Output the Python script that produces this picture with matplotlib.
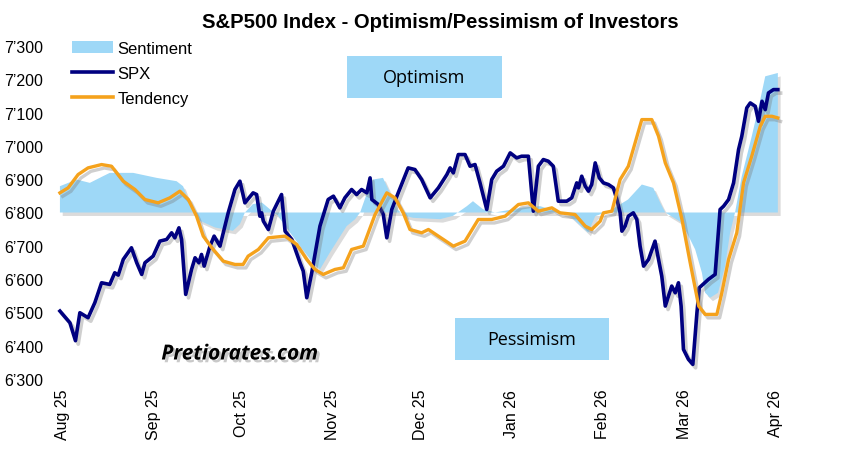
import matplotlib
matplotlib.use("Agg")
import matplotlib.pyplot as plt
import matplotlib.patheffects as pe
from matplotlib.patches import Rectangle, Patch
from matplotlib.lines import Line2D
import matplotlib.dates as mdates
import pandas as pd

start = pd.Timestamp("2025-08-01")
baseline = 6800

# days since 2025-08-01
spx_days = [-1.0, 2.4, 4.3, 5.8, 8.6, 10.9, 13.2, 16.0, 17.7, 18.9, 20.6, 23.4, 25.2, 26.9, 28.0,
            30.8, 33.1, 35.4, 37.1, 38.2, 39.6, 40.5, 41.9, 43.9, 45.1, 46.4, 47.3, 48.2, 50.2,
            51.6, 53.6, 56.4, 58.7, 60.4, 62.1, 64.9, 66.1, 67.2, 67.8, 68.4, 70.1, 71.8, 74.6,
            75.8, 78.1, 80.9, 82.0, 83.2, 84.9, 87.7, 90.5, 92.3, 94.5, 96.2, 98.5, 100.2, 101.9,
            103.7, 104.8, 105.4, 107.6, 109.3, 110.5, 112.2, 114.4, 117.8, 120.1, 122.4, 125.3,
            128.1, 131.0, 132.1, 133.2, 134.9, 137.2, 138.9, 140.6, 142.3, 144.6, 146.3, 148.0,
            150.3, 152.6, 154.8, 156.5, 158.8, 160.5, 162.2, 163.9, 165.6, 167.3, 169.0, 171.9,
            173.6, 175.3, 175.9, 177.0, 178.2, 179.3, 180.4, 181.6, 183.0, 184.4, 186.1, 187.8,
            189.0, 190.1, 190.7, 191.8, 192.9, 194.6, 195.8, 196.9, 198.1, 199.8, 202.0, 203.2,
            204.3, 205.5, 206.6, 207.7, 208.9, 210.0, 210.9, 211.7, 213.4, 214.9, 216.3, 217.1,
            220.2, 222.5, 224.2, 225.4, 227.1, 228.8, 230.5, 231.6, 233.3, 234.5, 236.2, 237.3,
            238.5, 239.6, 240.7, 242.4, 243.9]
spx_values = [6504, 6469, 6415, 6499, 6484, 6529, 6589, 6584, 6619, 6612, 6659, 6694, 6649, 6614, 6649,
              6669, 6714, 6719, 6739, 6724, 6754, 6719, 6554, 6629, 6664, 6649, 6674, 6639, 6699,
              6729, 6699, 6799, 6869, 6894, 6829, 6859, 6854, 6789, 6799, 6774, 6749, 6804, 6854,
              6744, 6719, 6649, 6624, 6544, 6619, 6759, 6839, 6849, 6814, 6844, 6869, 6854, 6869,
              6859, 6904, 6839, 6824, 6794, 6724, 6809, 6859, 6934, 6929, 6899, 6844,
              6874, 6914, 6934, 6919, 6974, 6974, 6939, 6944, 6889, 6809, 6899, 6924,
              6939, 6979, 6964, 6969, 6969, 6804, 6939, 6959, 6954, 6939, 6834, 6834,
              6844, 6889, 6874, 6909, 6879, 6864, 6884, 6949, 6904, 6889, 6884, 6874,
              6839, 6799, 6744, 6759, 6789, 6799, 6779, 6699, 6639, 6659, 6714, 6659,
              6609, 6519, 6549, 6579, 6559, 6589, 6519, 6389, 6359, 6344, 6499, 6574,
              6599, 6614, 6809, 6819, 6839, 6889, 6989, 7029, 7114, 7129, 7119, 7074,
              7134, 7109, 7159, 7169, 7169]

tend_days = [-1.0, 1.8, 5.2, 8.6, 13.2, 16.6, 20.6, 24.6, 28.0, 32.5, 36.5, 39.9, 42.8, 45.6, 47.9,
             50.8, 54.7, 58.7, 61.5, 63.2, 66.7, 70.1, 75.8, 79.8, 83.2, 86.0, 88.8, 92.8, 95.7,
             98.5, 102.5, 106.5, 110.5, 113.3, 116.1, 118.4, 122.4, 124.7, 128.1, 133.2, 137.2,
             141.7, 146.3, 150.9, 155.4, 158.8, 162.2, 166.8, 169.6, 174.7, 178.2, 180.4, 183.3,
             184.4, 187.3, 190.1, 192.9, 195.2, 197.5, 200.9, 203.2, 205.5, 208.3, 211.2, 214.0,
             216.9, 219.1, 223.1, 224.8, 227.1, 229.9, 232.2, 235.0, 237.9, 239.6, 241.9, 243.9]
tend_values = [6859, 6874, 6914, 6934, 6944, 6939, 6894, 6869, 6839, 6829, 6844, 6864, 6839, 6789, 6729,
               6694, 6654, 6644, 6644, 6669, 6689, 6724, 6729, 6704, 6659, 6629, 6614, 6629, 6634,
               6689, 6699, 6794, 6859, 6844, 6799, 6749, 6739, 6749, 6729, 6699, 6714,
               6779, 6779, 6789, 6824, 6829, 6804, 6814, 6799, 6794, 6759, 6749, 6774,
               6799, 6804, 6899, 6939, 7009, 7079, 7079, 7029, 6949, 6889, 6779, 6649,
               6519, 6494, 6494, 6559, 6659, 6739, 6889, 6969, 7059, 7089, 7089, 7084]

sent_days = [-1.0, 4.7, 9.2, 13.7, 16.0, 24.0, 32.0, 38.8, 41.0, 42.7, 44.4, 46.8, 51.9, 58.0, 60.4,
             62.1, 64.8, 67.9, 70.6, 73.4, 77.5, 82.6, 85.3, 87.7, 91.1, 96.8, 99.7, 101.4, 103.4,
             105.8, 109.2, 111.6, 113.9, 116.7, 119.5, 128.7, 133.1, 137.8, 139.9, 143.3, 147.4,
             157.0, 162.8, 167.9, 173.0, 179.2, 181.6, 185.0, 188.4, 192.8, 197.5, 201.4, 203.8,
             205.5, 211.2, 215.7, 218.0, 219.1, 220.8, 223.5, 225.9, 227.6, 229.3, 231.6, 235.0,
             237.9, 239.6, 243.9]
sent_values = [6879, 6899, 6889, 6909, 6919, 6919, 6904, 6894, 6879, 6840, 6800, 6775, 6755, 6745, 6765,
               6800, 6825, 6830, 6810, 6790, 6740, 6680, 6649, 6629, 6680, 6759, 6780, 6800, 6850,
               6899, 6904, 6859, 6810, 6790, 6784, 6780, 6790, 6819, 6834, 6810, 6800,
               6815, 6819, 6805, 6790, 6739, 6789, 6800, 6815, 6839, 6884, 6874, 6829,
               6800, 6769, 6689, 6619, 6559, 6544, 6559, 6639, 6739, 6800, 6909, 7029,
               7139, 7209, 7219]

spx_dates = start + pd.to_timedelta(spx_days, unit="D")
tend_dates = start + pd.to_timedelta(tend_days, unit="D")
sent_dates = start + pd.to_timedelta(sent_days, unit="D")

light_blue = "#9ed8f7"
navy = "#000080"
orange = "#f5a21c"

plt.rcParams["font.family"] = ["Liberation Sans", "DejaVu Sans"]

fig = plt.figure(figsize=(8.52, 4.60), dpi=100)
ax = fig.add_axes([57 / 852, 1 - 380 / 460, (784 - 57) / 852, (380 - 47) / 460])

shadow_line = [pe.SimpleLineShadow(offset=(2, -2.5), shadow_color="#777777", alpha=0.35), pe.Normal()]

poly = ax.fill_between(sent_dates, baseline, sent_values, color=light_blue, lw=0, zorder=1)
poly.set_path_effects([pe.SimplePatchShadow(offset=(2, -2.5), shadow_rgbFace="#888888", alpha=0.3), pe.Normal()])
ax.plot(spx_dates, spx_values, color=navy, lw=2.6, zorder=3, path_effects=shadow_line,
        solid_joinstyle="round")
ax.plot(tend_dates, tend_values, color=orange, lw=2.4, zorder=4, path_effects=shadow_line,
        solid_joinstyle="round")

ax.set_xlim(pd.Timestamp("2025-07-30"), pd.Timestamp("2026-04-04"))
ax.set_ylim(6300, 7300)
ax.set_yticks(range(6300, 7301, 100))
ax.yaxis.set_major_formatter(plt.FuncFormatter(lambda v, p: f"{int(v) // 1000}\u2019{int(v) % 1000:03d}"))
ax.xaxis.set_major_locator(mdates.MonthLocator())
ax.xaxis.set_major_formatter(mdates.DateFormatter("%b %y"))
ax.tick_params(axis="both", length=0, labelsize=11.5)
ax.tick_params(axis="y", pad=10)
ax.tick_params(axis="x", pad=7)
plt.setp(ax.get_xticklabels(), rotation=90)
for s in ax.spines.values():
    s.set_visible(False)

fig.text(440 / 852, 1 - 23 / 460, "S&P500 Index - Optimism/Pessimism of Investors",
         ha="center", va="center", fontsize=14.6, fontweight="bold")

handles = [Patch(facecolor=light_blue, edgecolor="none"),
           Line2D([], [], color=navy, lw=2.6),
           Line2D([], [], color=orange, lw=2.6)]
ax.legend(handles, ["Sentiment", "SPX", "Tendency"], loc="upper left", bbox_to_anchor=(0.02, 1.015),
          frameon=False, fontsize=12, handlelength=2.5, handletextpad=0.25, labelspacing=0.6,
          borderaxespad=0, borderpad=0)

for label, (x0, y0, x1, y1) in [("Optimism", (347, 57, 502, 99)), ("Pessimism", (455, 319, 609, 361))]:
    fig.patches.append(Rectangle((x0 / 852, 1 - y1 / 460), (x1 - x0) / 852, (y1 - y0) / 460,
                                 transform=fig.transFigure, facecolor=light_blue, edgecolor="none", zorder=5))
    fig.text((x0 + x1) / 2 / 852, 1 - (y0 + y1) / 2 / 460, label, ha="center", va="center",
             fontsize=13, family=["Open Sans", "DejaVu Sans"], zorder=6)

fig.text(240 / 852, 1 - 355 / 460, "Pretiorates.com", ha="center", va="center", fontsize=15,
         fontweight="bold", fontstyle="italic", family=["Open Sans", "DejaVu Sans"],
         path_effects=[pe.SimplePatchShadow(offset=(2, -2), shadow_rgbFace="#666666", alpha=0.35), pe.Normal()])

fig.savefig("out.png", dpi=100)
